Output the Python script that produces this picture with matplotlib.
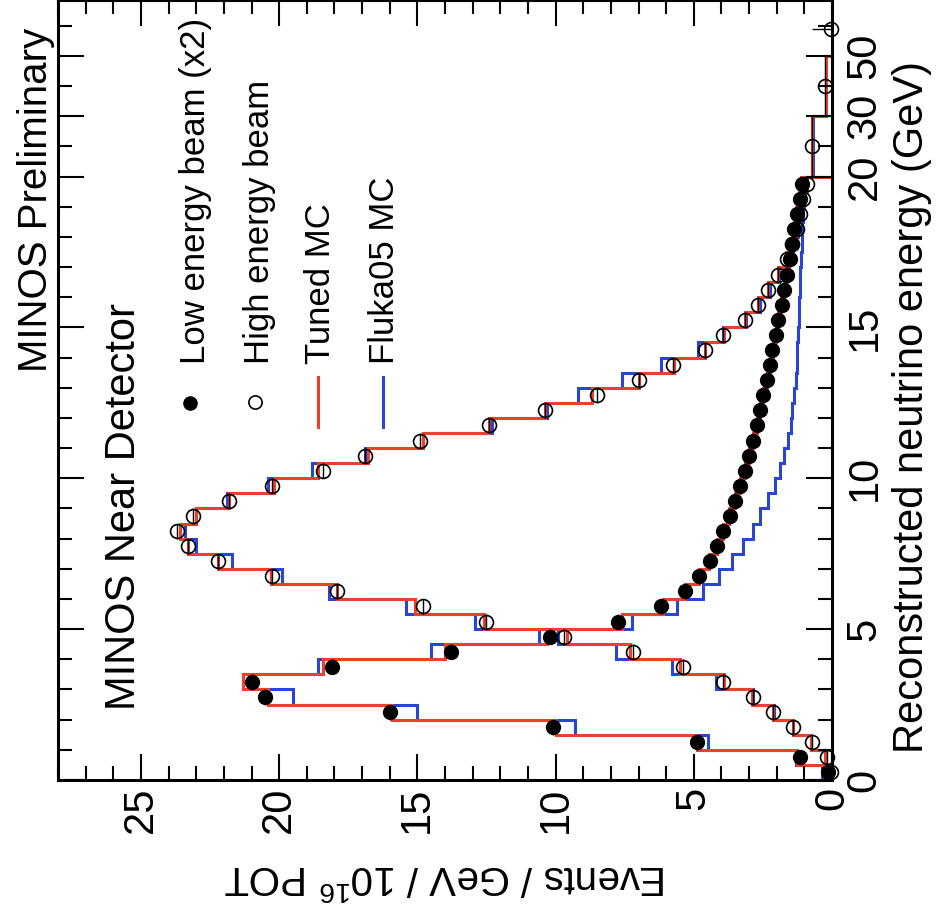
import numpy as np
import matplotlib
matplotlib.use("Agg")
import matplotlib.pyplot as plt
from matplotlib.ticker import FixedLocator, FixedFormatter

plt.rcParams['font.family'] = ['Liberation Sans', 'DejaVu Sans']
plt.rcParams['mathtext.default'] = 'regular'

# ---------------- data ----------------
# bin edges (GeV)
le_edges = np.arange(0, 20.01, 0.5)
he_edges = np.concatenate([np.arange(0, 20.01, 0.5), [30, 50]])
le_centers = 0.5 * (le_edges[:-1] + le_edges[1:])
he_centers = 0.5 * (he_edges[:-1] + he_edges[1:])

# Low energy beam data (x2), events / GeV / 1e16 POT
le_data = [0.15, 1.15, 4.9, 10.1, 16.0, 20.5, 21.0, 18.1, 13.8, 10.2,
           7.75, 6.2, 5.3, 4.8, 4.42, 4.17, 3.95, 3.7, 3.51, 3.33,
           3.15, 3.0, 2.86, 2.72, 2.6, 2.5, 2.36, 2.25, 2.17, 2.03,
           1.95, 1.81, 1.75, 1.63, 1.52, 1.45, 1.38, 1.27, 1.16, 1.08]
le_tuned = [0.3, 1.27, 4.9, 10.0, 15.9, 20.4, 21.3, 18.4, 14.0, 10.3,
            7.6, 6.1, 5.3, 4.8, 4.45, 4.15, 3.95, 3.72, 3.5, 3.32,
            3.15, 3.0, 2.86, 2.72, 2.6, 2.48, 2.36, 2.25, 2.15, 2.04,
            1.94, 1.83, 1.74, 1.64, 1.55, 1.46, 1.38, 1.29, 1.2, 1.12]
le_fluka = [0.35, 1.3, 4.5, 9.3, 15.0, 19.5, 21.0, 18.6, 14.5, 10.6,
            7.25, 5.6, 4.67, 4.1, 3.6, 3.22, 2.86, 2.6, 2.3, 2.07,
            1.88, 1.72, 1.6, 1.5, 1.43, 1.37, 1.32, 1.28, 1.25, 1.22,
            1.2, 1.18, 1.16, 1.14, 1.12, 1.1, 1.08, 1.06, 1.04, 1.02]

# High energy beam data
he_data = [0.05, 0.18, 0.72, 1.41, 2.14, 2.86, 3.95, 5.4, 7.2, 9.7,
           12.5, 14.8, 17.9, 20.25, 22.2, 23.3, 23.7, 23.1, 21.8, 20.25,
           18.4, 16.9, 14.9, 12.4, 10.4, 8.5, 7.0, 5.75, 4.6, 3.95,
           3.15, 2.68, 2.3, 1.95, 1.63, 1.45, 1.27, 1.16, 1.05, 0.9,
           0.72, 0.25]
he_tuned = [0.1, 0.25, 0.75, 1.4, 2.15, 2.9, 3.9, 5.5, 7.3, 9.6,
            12.6, 15.1, 17.9, 20.3, 22.2, 23.3, 23.6, 23.0, 21.8, 20.2,
            18.6, 16.8, 14.8, 12.4, 10.4, 8.7, 7.0, 5.7, 4.6, 3.9,
            3.15, 2.68, 2.3, 1.95, 1.65, 1.45, 1.27, 1.15, 1.04, 0.92,
            0.72, 0.2]
he_fluka = [0.1, 0.25, 0.75, 1.4, 2.1, 2.85, 4.2, 5.8, 7.8, 9.9,
            12.9, 15.4, 18.2, 19.9, 21.7, 23.0, 23.4, 23.0, 21.9, 20.4,
            18.8, 16.9, 14.8, 12.3, 10.3, 9.2, 7.6, 6.2, 4.85, 3.95,
            3.1, 2.62, 2.25, 1.9, 1.6, 1.4, 1.24, 1.12, 1.02, 0.9,
            0.7, 0.2]
# overflow point
he_over_E = [59.0]
he_over_v = [0.02]

energy_ticks = [0, 5, 10, 15, 20, 30, 50]
energy_ticklabels = ['0', '5', '10', '15', '20', '30', '50']
event_ticks = [0, 5, 10, 15, 20, 25]

RED = '#e8412c'
BLUE = '#2845d6'

# ---------------- energy scale (compressed above 20 GeV) ----------------
def fwd(E):
    E = np.asarray(E, dtype=float)
    return np.where(E <= 20, E, np.where(E <= 30, 20 + (E - 20) * 0.2, 22 + (E - 30) * 0.1))

def inv(u):
    u = np.asarray(u, dtype=float)
    return np.where(u <= 20, u, np.where(u <= 22, 20 + (u - 20) * 5.0, 30 + (u - 22) * 10.0))

W, H = 942, 915
fig = plt.figure(figsize=(W / 100, H / 100), dpi=100)
ax = fig.add_axes([58 / W, 135 / H, 774 / W, 780 / H])
ax.set_yscale('function', functions=(fwd, inv))

# histograms (energy along vertical axis)
ax.stairs(le_fluka, le_edges, orientation='horizontal', color=BLUE, lw=2.2, baseline=0)
ax.stairs(he_fluka, he_edges, orientation='horizontal', color=BLUE, lw=2.2, baseline=0)
ax.stairs(le_tuned, le_edges, orientation='horizontal', color=RED, lw=2.2, baseline=0)
ax.stairs(he_tuned, he_edges, orientation='horizontal', color=RED, lw=2.2, baseline=0)

# data points
he_half = 0.5 * np.diff(he_edges)
le_half = 0.5 * np.diff(le_edges)
ax.errorbar(he_data, he_centers, yerr=he_half, fmt='o', ms=10, mfc='none', mec='black',
            mew=1.2, ecolor='black', elinewidth=1.0, capsize=0, clip_on=False, zorder=5)
ax.errorbar(he_over_v, he_over_E, xerr=[[0.0], [0.7]], fmt='o', ms=10, mfc='none', mec='black',
            mew=1.2, ecolor='black', elinewidth=1.0, capsize=0, clip_on=False, zorder=5)
ax.errorbar(le_data, le_centers, yerr=le_half, fmt='o', ms=10, mfc='black', mec='black',
            ecolor='black', elinewidth=1.0, capsize=0, clip_on=False, zorder=6)

# axes limits / ticks
ax.set_xlim(28.0, 0.0)
ax.set_ylim(0, float(inv(25.85)))
ax.xaxis.set_major_locator(FixedLocator(event_ticks))
ax.xaxis.set_minor_locator(FixedLocator(np.arange(0, 28.01, 1.0)))
ax.yaxis.set_major_locator(FixedLocator(energy_ticks))
ax.yaxis.set_major_formatter(FixedFormatter(energy_ticklabels))
ax.yaxis.set_minor_locator(FixedLocator(list(range(1, 20)) + [25, 40, 60]))
ax.yaxis.set_minor_formatter(FixedFormatter([]))

ax.tick_params(axis='both', which='both', direction='in', top=True, bottom=True,
               left=True, right=True, labelleft=False, labelright=True,
               labelbottom=True, labeltop=False, width=1.5, labelsize=30)
ax.tick_params(axis='both', which='major', length=19)
ax.tick_params(axis='both', which='minor', length=10)
ax.tick_params(axis='x', labelrotation=90, pad=5)
ax.tick_params(axis='y', labelrotation=90, pad=9)
for lab in ax.get_yticklabels():
    lab.set_verticalalignment('center')
for s in ax.spines.values():
    s.set_linewidth(2.2)

# axis titles
fig.text(912 / W, 1 - 407 / H, 'Reconstructed neutrino energy (GeV)', rotation=90,
         ha='center', va='center', fontsize=30)
fig.text(445 / W, 1 - 878 / H, 'Events / GeV / 10$^{16}$ POT', rotation=180,
         ha='center', va='center', fontsize=29)

# annotations
fig.text(36 / W, 1 - 200 / H, 'MINOS Preliminary', rotation=90, ha='center', va='center', fontsize=29)
fig.text(124 / W, 1 - 506 / H, 'MINOS Near Detector', rotation=90, ha='center', va='center', fontsize=30)

# legend (drawn manually, rotated like the rest of the figure)
def axf(px, py):
    return ((px - 58) / 774, (780 - py) / 780)

ax.plot(*axf(190, 403), 'o', color='black', ms=9.5, transform=ax.transAxes, clip_on=False)
ax.plot(*axf(255, 402), 'o', mfc='none', mec='black', mew=1.2, ms=9.5, transform=ax.transAxes, clip_on=False)
x0, y0 = axf(318, 427); x1, y1 = axf(318, 377)
ax.plot([x0, x1], [y0, y1], color=RED, lw=2.2, transform=ax.transAxes)
x0, y0 = axf(383, 427); x1, y1 = axf(383, 377)
ax.plot([x0, x1], [y0, y1], color=BLUE, lw=2.2, transform=ax.transAxes)

leg_items = [('Low energy beam (x2)', 195), ('High energy beam', 259),
             ('Tuned MC', 320), ('Fluka05 MC', 385)]
for txt, px in leg_items:
    tx, ty = axf(px, 364)
    ax.text(tx, ty, txt, rotation=90, ha='center', va='bottom', fontsize=25,
            transform=ax.transAxes)

fig.savefig('out.png', dpi=100)
